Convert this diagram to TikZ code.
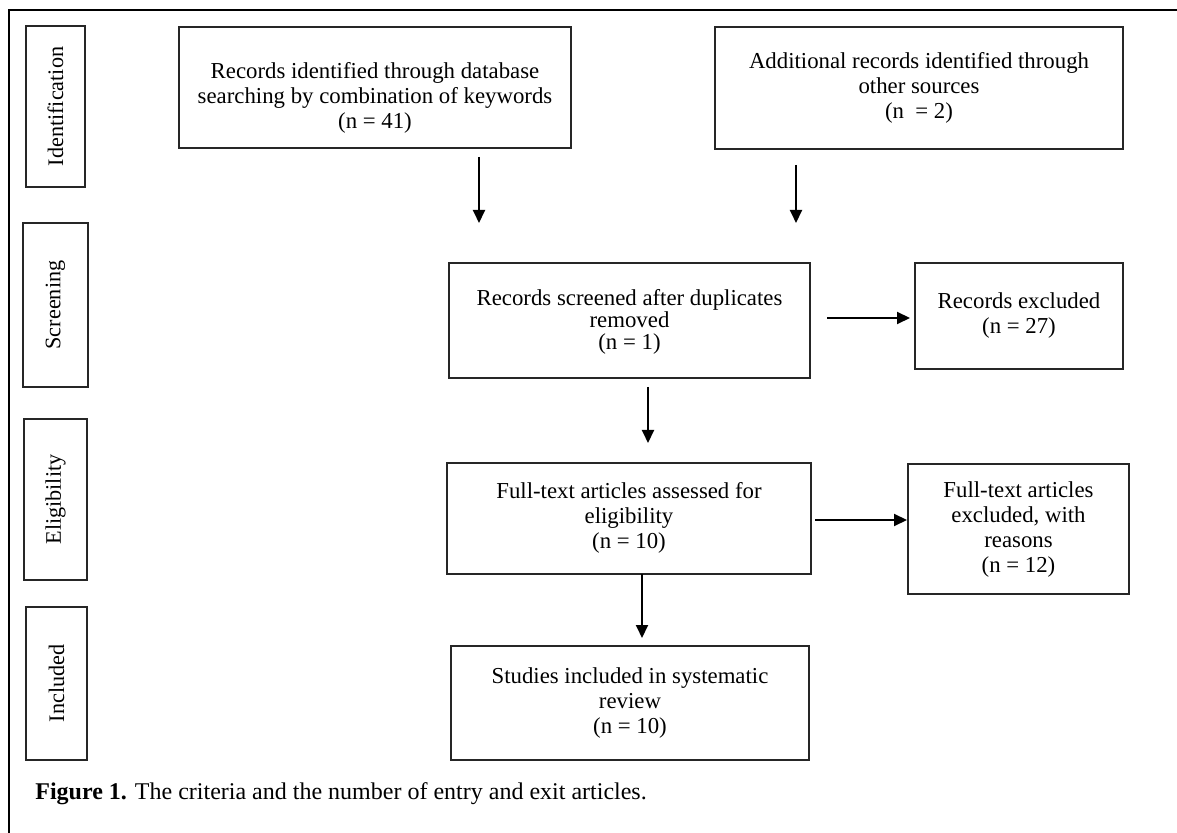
\documentclass[tikz,border=0pt]{standalone}
\usepackage{fontspec}
\setmainfont{Liberation Serif}
\usetikzlibrary{arrows.meta}
\begin{document}
\begin{tikzpicture}[x=0.5pt,y=-0.5pt,
  box/.style={draw=black!85,line width=0.55pt,inner sep=0pt},
  txt/.style={align=center,inner sep=0pt,font=\fontsize{11.4}{12.5}\selectfont},
  tight/.style={align=center,inner sep=0pt,font=\fontsize{11.4}{10.8}\selectfont},
  side/.style={rotate=90,inner sep=0pt,font=\fontsize{11.1}{12.5}\selectfont},
  arr/.style={line width=1pt,-{Triangle[length=6.5pt,width=6pt]}},
  frame/.style={line width=1pt}]
\useasboundingbox (0,0) rectangle (1177,833);
% outer frame
\coordinate (f1) at (9,833);
\coordinate (f2) at (9,10);
\coordinate (f3) at (1177,10);
\draw[frame] (f1) -- (f2) -- (f3);
% stage labels
\node[box,minimum width=29.5pt,minimum height=80.5pt] (id) at (55.5,106.5) {};
\node[side] (idt) at (id.center) {Identification};
\node[box,minimum width=32.5pt,minimum height=82pt] (scr) at (55.5,305) {};
\node[side] (scrt) at (scr.center) {Screening};
\node[box,minimum width=31.5pt,minimum height=80.5pt] (eli) at (55.5,499.5) {};
\node[side] (elit) at (eli.center) {Eligibility};
\node[box,minimum width=30.5pt,minimum height=76.5pt] (inc) at (56.5,683.5) {};
\node[side] (inct) at (inc.center) {Included};
% boxes
\node[box,minimum width=196pt,minimum height=60.5pt] (A) at (375,87.5) {};
\node[txt] (At) at (375,98) {Records identified through database\\searching by combination of keywords\\(n = 41)};
\node[box,minimum width=204pt,minimum height=61pt] (B) at (919,88) {};
\node[txt] (Bt) at (919,88) {Additional records identified through\\other sources\\(n\ \ = 2)};
\node[box,minimum width=180.5pt,minimum height=57.5pt] (C) at (629.5,320.5) {};
\node[tight] (Ct) at (629.5,322) {Records screened after duplicates\\removed\\(n = 1)};
\node[box,minimum width=104pt,minimum height=53pt] (D) at (1019,316) {};
\node[txt] (Dt) at (1019,315.5) {Records excluded\\(n = 27)};
\node[box,minimum width=182pt,minimum height=55.5pt] (E) at (629,518.5) {};
\node[txt] (Et) at (629,518) {Full-text articles assessed for\\eligibility\\(n = 10)};
\node[box,minimum width=110.5pt,minimum height=65pt] (F) at (1018.5,529) {};
\node[txt] (Ft) at (1018.5,529.5) {Full-text articles\\excluded, with\\reasons\\(n = 12)};
\node[box,minimum width=179pt,minimum height=57pt] (G) at (630,703) {};
\node[txt] (Gt) at (630,703) {Studies included in systematic\\review\\(n = 10)};
% arrows
\coordinate (a1) at (479,157); \coordinate (a2) at (479,223);
\coordinate (b1) at (796,165); \coordinate (b2) at (796,223);
\coordinate (c1) at (648,387); \coordinate (c2) at (648,443);
\coordinate (c3) at (827,318); \coordinate (c4) at (910,318);
\coordinate (e1) at (642,574); \coordinate (e2) at (642,638);
\coordinate (e3) at (815,520); \coordinate (e4) at (907,520);
\draw[arr] (a1) -- (a2);
\draw[arr] (b1) -- (b2);
\draw[arr] (c1) -- (c2);
\draw[arr] (c3) -- (c4);
\draw[arr] (e1) -- (e2);
\draw[arr] (e3) -- (e4);
% caption
\node[anchor=base west,inner sep=0pt,font=\fontsize{12}{13}\selectfont] (cap) at (35,799) {\textbf{Figure 1.} The criteria and the number of entry and exit articles.};
\end{tikzpicture}
\end{document}
